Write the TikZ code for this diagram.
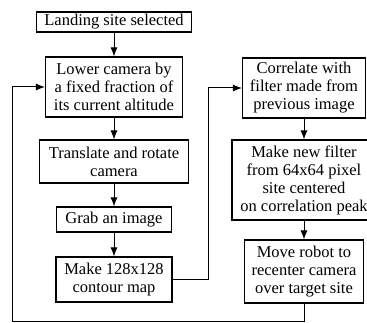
\documentclass[tikz,border=0pt]{standalone}
\usepackage{fontspec}
\setmainfont{Liberation Serif}
\usepackage{tikz}
\usetikzlibrary{arrows.meta,positioning,calc}

\begin{document}
\begin{tikzpicture}[x = 1pt, y = -1pt,
    box/.style = {draw, line width = 1.1pt, align = center, inner sep = 1pt,
                  font = \fontsize{16.5}{18}\selectfont},
    arr/.style = {-{Latex[length = 9pt, width = 7pt]}, line width = 1pt}]
    \useasboundingbox (0,0) rectangle (367,323);
    \clip (0,0) rectangle (367,323);
    % left column
    \node[box, minimum width = 155, minimum height = 20] (land) at (114,22) {Landing site selected};
    \node[box, minimum width = 137, minimum height = 60] (lower) at (114,87) {Lower camera by\\a fixed fraction of\\its current altitude};
    \node[box, minimum width = 149, minimum height = 43] (trans) at (114,161.5) {Translate and rotate\\camera};
    \node[box, minimum width = 115, minimum height = 25] (grab) at (114,219.5) {Grab an image};
    \node[box, minimum width = 116, minimum height = 45] (cmap) at (114,279.5) {Make 128x128\\contour map};
    % right column
    \node[box, minimum width = 123, minimum height = 60] (corr) at (304,88) {Correlate with\\filter made from\\previous image};
    \node[box, minimum width = 144, minimum height = 80] (filt) at (304,180) {Make new filter\\from 64x64 pixel\\site centered\\on correlation peak};
    \node[box, minimum width = 119, minimum height = 63] (robot) at (304,271.5) {Move robot to\\recenter camera\\over target site};
    \coordinate (up) at (208,279);
    \coordinate (back) at (12,321);
    \draw[arr] (land) -- (lower);
    \draw[arr] (lower) -- (trans);
    \draw[arr] (trans) -- (grab);
    \draw[arr] (grab) -- (cmap);
    \draw[arr] (cmap.east) -- (cmap.east -| up) |- (corr);
    \draw[arr] (corr) -- (filt);
    \draw[arr] (filt) -- (robot);
    % loop back
    \draw[arr] (robot) |- (back) |- (lower);
\end{tikzpicture}
\end{document}
